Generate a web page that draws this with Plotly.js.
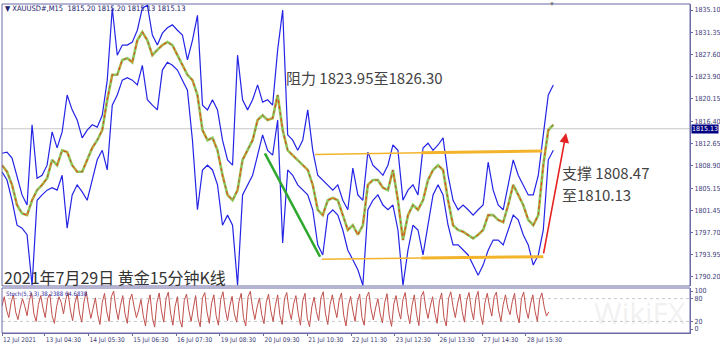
<!DOCTYPE html>
<html><head><meta charset="utf-8">
<script src="https://cdn.plot.ly/plotly-3.0.1.min.js"></script>
<style>html,body{margin:0;padding:0;background:#fff}#c{width:720px;height:345px}</style>
</head><body><div id="c"></div>
<script>
// ---- data ----
const sampleStep = 11;   // bars between price samples
const stochStep = 5;     // bars between stochastic samples
const upperBand = [1811.0,1811.2,1810.2,1807.3,1804.0,1802.3,1815.8,1806.8,1807.3,1809.0,1814.6,1811.9,1814.6,1820.8,1818.3,1816.6,1813.6,1814.9,1815.8,1815.4,1817.4,1823.3,1835.4,1827.5,1829.2,1829.2,1829.7,1831.7,1835.4,1835.9,1830.9,1829.2,1831.2,1832.1,1832.6,1831.7,1830.9,1826.7,1830.0,1834.2,1819.1,1818.3,1820.0,1818.3,1813.2,1809.9,1809.0,1827.5,1820.0,1818.3,1820.0,1822.5,1819.6,1820.0,1819.1,1828.4,1835.1,1814.1,1813.2,1811.5,1813.2,1818.3,1811.5,1807.3,1806.5,1805.7,1804.8,1805.7,1803.1,1801.5,1808.5,1804.0,1803.1,1811.2,1809.0,1808.2,1807.3,1809.0,1812.4,1811.5,1803.1,1804.8,1805.7,1804.0,1811.9,1812.7,1811.5,1812.4,1813.6,1807.3,1803.1,1801.5,1802.3,1801.5,1800.6,1801.5,1802.3,1809.5,1804.8,1802.3,1801.5,1805.7,1809.9,1807.3,1805.7,1804.0,1804.0,1807.3,1814.1,1820.8,1822.5];
const priceMid = [1809.0,1807.9,1805.7,1802.3,1800.9,1800.6,1803.1,1804.8,1805.7,1806.8,1809.9,1809.0,1811.5,1811.2,1809.0,1807.9,1807.9,1809.9,1811.9,1813.2,1814.9,1820.0,1824.2,1824.2,1826.7,1827.0,1826.3,1830.0,1831.4,1830.0,1827.5,1828.4,1829.2,1829.7,1829.2,1827.5,1825.8,1824.2,1823.3,1820.8,1814.9,1813.2,1813.6,1811.5,1807.3,1804.0,1803.1,1804.8,1809.9,1811.5,1813.2,1816.6,1817.4,1816.6,1816.9,1820.8,1814.9,1811.5,1810.7,1809.9,1809.0,1808.2,1805.7,1801.5,1800.6,1803.1,1803.5,1803.1,1800.6,1798.1,1798.9,1797.3,1798.9,1805.7,1806.5,1806.5,1805.2,1804.8,1808.2,1803.1,1796.4,1800.6,1802.3,1801.5,1803.1,1806.5,1808.2,1809.0,1808.2,1803.1,1798.9,1798.1,1797.8,1797.3,1796.7,1797.3,1798.1,1800.6,1800.6,1799.8,1799.4,1802.3,1805.7,1804.0,1802.3,1799.8,1798.9,1800.6,1809.0,1814.9,1815.8];
const lowerBand = [1807.9,1806.5,1803.1,1798.9,1798.4,1797.3,1788.8,1803.1,1804.0,1804.8,1805.2,1804.8,1807.3,1798.4,1804.0,1805.7,1804.5,1803.1,1806.5,1809.9,1811.5,1808.2,1819.1,1820.8,1823.3,1823.7,1823.3,1822.5,1825.8,1820.0,1819.1,1818.3,1825.0,1826.3,1825.8,1825.0,1823.3,1821.6,1813.2,1801.5,1808.2,1809.0,1808.2,1805.7,1798.9,1800.6,1798.9,1788.8,1804.0,1805.7,1807.3,1810.7,1814.1,1811.5,1810.7,1816.6,1795.9,1808.2,1807.3,1805.7,1804.8,1804.0,1801.5,1795.6,1793.9,1800.6,1801.5,1800.6,1798.1,1794.7,1793.1,1791.4,1788.8,1801.5,1803.1,1804.0,1802.3,1801.5,1802.3,1798.1,1788.8,1794.7,1798.9,1798.1,1793.9,1798.9,1804.0,1805.7,1804.0,1798.9,1795.6,1795.6,1794.7,1793.9,1792.2,1790.5,1792.2,1794.7,1796.4,1796.4,1795.6,1798.1,1800.6,1799.8,1797.3,1795.6,1792.2,1793.9,1798.1,1809.9,1811.5];
const stochMain = [60,85,50,30, 70,90,45,25, 55,80,60,35, 75,95,40,20, 65,88,55,30, 80,92,35,15, 60,85,70,40, 78,96,50,22, 68,90,42,18, 72,98,60,28,
 55,82,38,12, 70,94,45,20, 85,100,55,25, 62,88,40,15, 75,92,58,30, 50,78,35,8, 65,90,30,5, 70,95,48,18, 80,97,42,10, 60,85,25,5,
 75,92,50,20, 55,88,30,6, 82,96,45,15, 68,90,35,10, 78,98,52,22, 60,86,40,18, 72,94,30,8, 85,99,55,25, 58,82,38,14, 70,92,48,20,
 62,90,35,12, 80,96,50,25, 66,88,42,10, 74,94,28,6, 58,84,46,22, 82,98,40,12, 64,90,55,30, 76,95,36,8, 60,86,48,20, 72,92,30,10,
 84,97,52,24, 56,80,40,16, 70,93,34,7, 66,88,50,26, 78,96,44,14, 62,90,38,9, 86,99,56,28, 60,85,42,15, 74,95,30,8, 80,98,58,30,
 68,92,46,18, 76,96,52,24, 82,99,40,12, 70,94,60,34, 84,97,48,20, 64,90,55,38, 72,94,40,16, 80,97,52,28, 66,90,46,20, 78,95,58,34, 45];
const levelLines = [20, 80];
const lastPrice = 1815.13;
const tickBars = [0,94,190,286,382,478,574,670,766,862,958,1054,1150];
const tickText = ['12 Jul 2021','13 Jul 04:30','14 Jul 05:30','15 Jul 06:30','16 Jul 07:30','19 Jul 08:30','20 Jul 09:30','21 Jul 10:30','22 Jul 11:30','23 Jul 12:30','26 Jul 13:30','27 Jul 14:30','28 Jul 15:30'];
const priceTicks = [1835.10,1831.35,1827.60,1823.90,1820.15,1816.40,1812.65,1808.90,1805.15,1801.45,1797.70,1793.95,1790.20];
const greenLine = {x:[577,698], y:[1811.0,1793.6]};
const resistThin = {x:[687,920], y:[1810.8,1811.1]};
const resistThick = {x:[920,1186], y:[1811.1,1811.4]};
const supportThin = {x:[702,920], y:[1793.2,1793.4]};
const supportThick = {x:[920,1188], y:[1793.4,1793.6]};
const redArrow = {x0:1188, y0:1793.9, x1:1238, y1:1814.4};

const xs = priceMid.map((_, i) => i * sampleStep);
const xsStoch = stochMain.map((_, i) => i * stochStep);

const traces = [
  {x: xs, y: upperBand, mode:'lines', line:{color:'#2424e6', width:1.2}, hoverinfo:'skip'},
  {x: xs, y: lowerBand, mode:'lines', line:{color:'#2424e6', width:1.2}, hoverinfo:'skip'},
  {x: xs, y: priceMid, mode:'lines', line:{color:'rgba(120,190,60,0.85)', width:2.6}, hoverinfo:'skip'},
  {x: xs, y: priceMid, mode:'lines', line:{color:'rgba(225,140,40,0.85)', width:1.4, dash:'dash'}, hoverinfo:'skip'},
  {x: xs, y: priceMid, mode:'lines', line:{color:'rgba(215,40,40,0.8)', width:1, dash:'dot'}, hoverinfo:'skip'},
  {x: greenLine.x, y: greenLine.y, mode:'lines', line:{color:'#2fa82f', width:2.5}, hoverinfo:'skip'},
  {x: resistThin.x, y: resistThin.y, mode:'lines', line:{color:'#f3b42c', width:1.5}, hoverinfo:'skip'},
  {x: resistThick.x, y: resistThick.y, mode:'lines', line:{color:'#f3b42c', width:3}, hoverinfo:'skip'},
  {x: supportThin.x, y: supportThin.y, mode:'lines', line:{color:'#f3b42c', width:1.5}, hoverinfo:'skip'},
  {x: supportThick.x, y: supportThick.y, mode:'lines', line:{color:'#f3b42c', width:3}, hoverinfo:'skip'},
  {x: xsStoch, y: stochMain, xaxis:'x', yaxis:'y2', mode:'lines', line:{color:'#c0504d', width:1}, hoverinfo:'skip'}
];

const px = v => (v - 2) / 688;
const py = v => (333 - v) / 329;
const axisCol = '#6a6aa6';
const narrow = 'Liberation Sans Narrow, Arial Narrow, DejaVu Sans Condensed, sans-serif';
const tf = {family:narrow, size:7, color:'#3c3c78'};
const cjk = 'Noto Sans CJK SC, sans-serif';

const shapes = [
  {type:'line', xref:'paper', yref:'y', x0:0, x1:1, y0:lastPrice, y1:lastPrice, line:{color:'#c8c8c8', width:1}, layer:'below'},
  {type:'rect', xref:'paper', yref:'paper', x0:0, x1:1, y0:py(286), y1:1, line:{color:axisCol, width:1}},
  {type:'rect', xref:'paper', yref:'paper', x0:0, x1:1, y0:0, y1:py(288), line:{color:axisCol, width:1}}
];
levelLines.forEach(l => shapes.push({type:'line', xref:'paper', yref:'y2', x0:0, x1:1, y0:l, y1:l, line:{color:'#c8c8c8', width:1, dash:'dot'}, layer:'below'}));

const annotations = [
  {xref:'paper', yref:'paper', x:px(3), y:py(8), xanchor:'left', yanchor:'middle', showarrow:false, text:'▼ XAUUSD#,M15  1815.20 1815.20 1815.13 1815.13', font:{family:narrow, size:7.5, color:'#20206a'}},
  {xref:'paper', yref:'paper', x:px(552), y:py(4), xanchor:'center', yanchor:'middle', showarrow:false, text:'▼', font:{size:6, color:'#777'}},
  {xref:'paper', yref:'paper', x:px(284), y:py(77), xanchor:'left', yanchor:'middle', showarrow:false, text:'阻力 1823.95至1826.30', font:{family:cjk, size:15, color:'#444'}},
  {xref:'paper', yref:'paper', x:px(560), y:py(173), xanchor:'left', yanchor:'middle', showarrow:false, text:'支撑 1808.47', font:{family:cjk, size:15, color:'#444'}},
  {xref:'paper', yref:'paper', x:px(560), y:py(194), xanchor:'left', yanchor:'middle', showarrow:false, text:'至1810.13', font:{family:cjk, size:15, color:'#444'}},
  {xref:'paper', yref:'paper', x:px(2), y:py(277), xanchor:'left', yanchor:'middle', showarrow:false, text:'2021年7月29日 黄金15分钟K线', font:{family:cjk, size:16, color:'#333'}},
  {xref:'paper', yref:'paper', x:px(4), y:py(293), xanchor:'left', yanchor:'middle', showarrow:false, text:'Stoch(5,3,3) 38.2388 64.6838', font:{family:narrow, size:6, color:'#3030a0'}},
  {xref:'paper', yref:'paper', x:px(640), y:py(312), xanchor:'center', yanchor:'middle', showarrow:false, text:'WikiFX', font:{family:'Open Sans, sans-serif', size:30, color:'rgba(200,200,200,0.25)'}},
  {xref:'paper', yref:'y', x:1, y:lastPrice, xanchor:'left', yanchor:'middle', xshift:1, showarrow:false, text:'1815.13', bgcolor:'#000080', borderpad:0, font:{family:narrow, size:7, color:'#fff'}},
  {xref:'x', yref:'y', axref:'x', ayref:'y', x:redArrow.x1, y:redArrow.y1, ax:redArrow.x0, ay:redArrow.y0, showarrow:true, arrowhead:2, arrowsize:1.2, arrowwidth:1.6, arrowcolor:'#e52222', text:''}
];

const layout = {
  width:720, height:345, paper_bgcolor:'#fff', plot_bgcolor:'#fff', showlegend:false,
  margin:{l:2, r:30, t:4, b:12},
  xaxis:{range:[0,1510], anchor:'y2', tickvals:tickBars, ticktext:tickText, ticks:'outside', ticklen:2, tickcolor:axisCol, tickangle:0,
         ticklabelposition:'outside right', tickfont:{family:narrow, size:6.5, color:'#3c3c78'}, showgrid:false, zeroline:false, showline:true, linecolor:axisCol},
  yaxis:{domain:[py(286),1], range:[1788.68,1836.11], side:'right', tickvals:priceTicks, ticktext:priceTicks.map(v=>v.toFixed(2)),
         ticks:'outside', ticklen:2, tickcolor:axisCol, tickfont:tf, showgrid:false, zeroline:false, showline:true, linecolor:axisCol},
  yaxis2:{domain:[0,py(288)], range:[-10.5,108], side:'right', tickvals:[0,20,80,100], ticks:'outside', ticklen:2, tickcolor:axisCol,
          tickfont:tf, showgrid:false, zeroline:false, showline:true, linecolor:axisCol},
  shapes:shapes, annotations:annotations
};
Plotly.newPlot('c', traces, layout, {staticPlot:true, displayModeBar:false});
</script></body></html>
